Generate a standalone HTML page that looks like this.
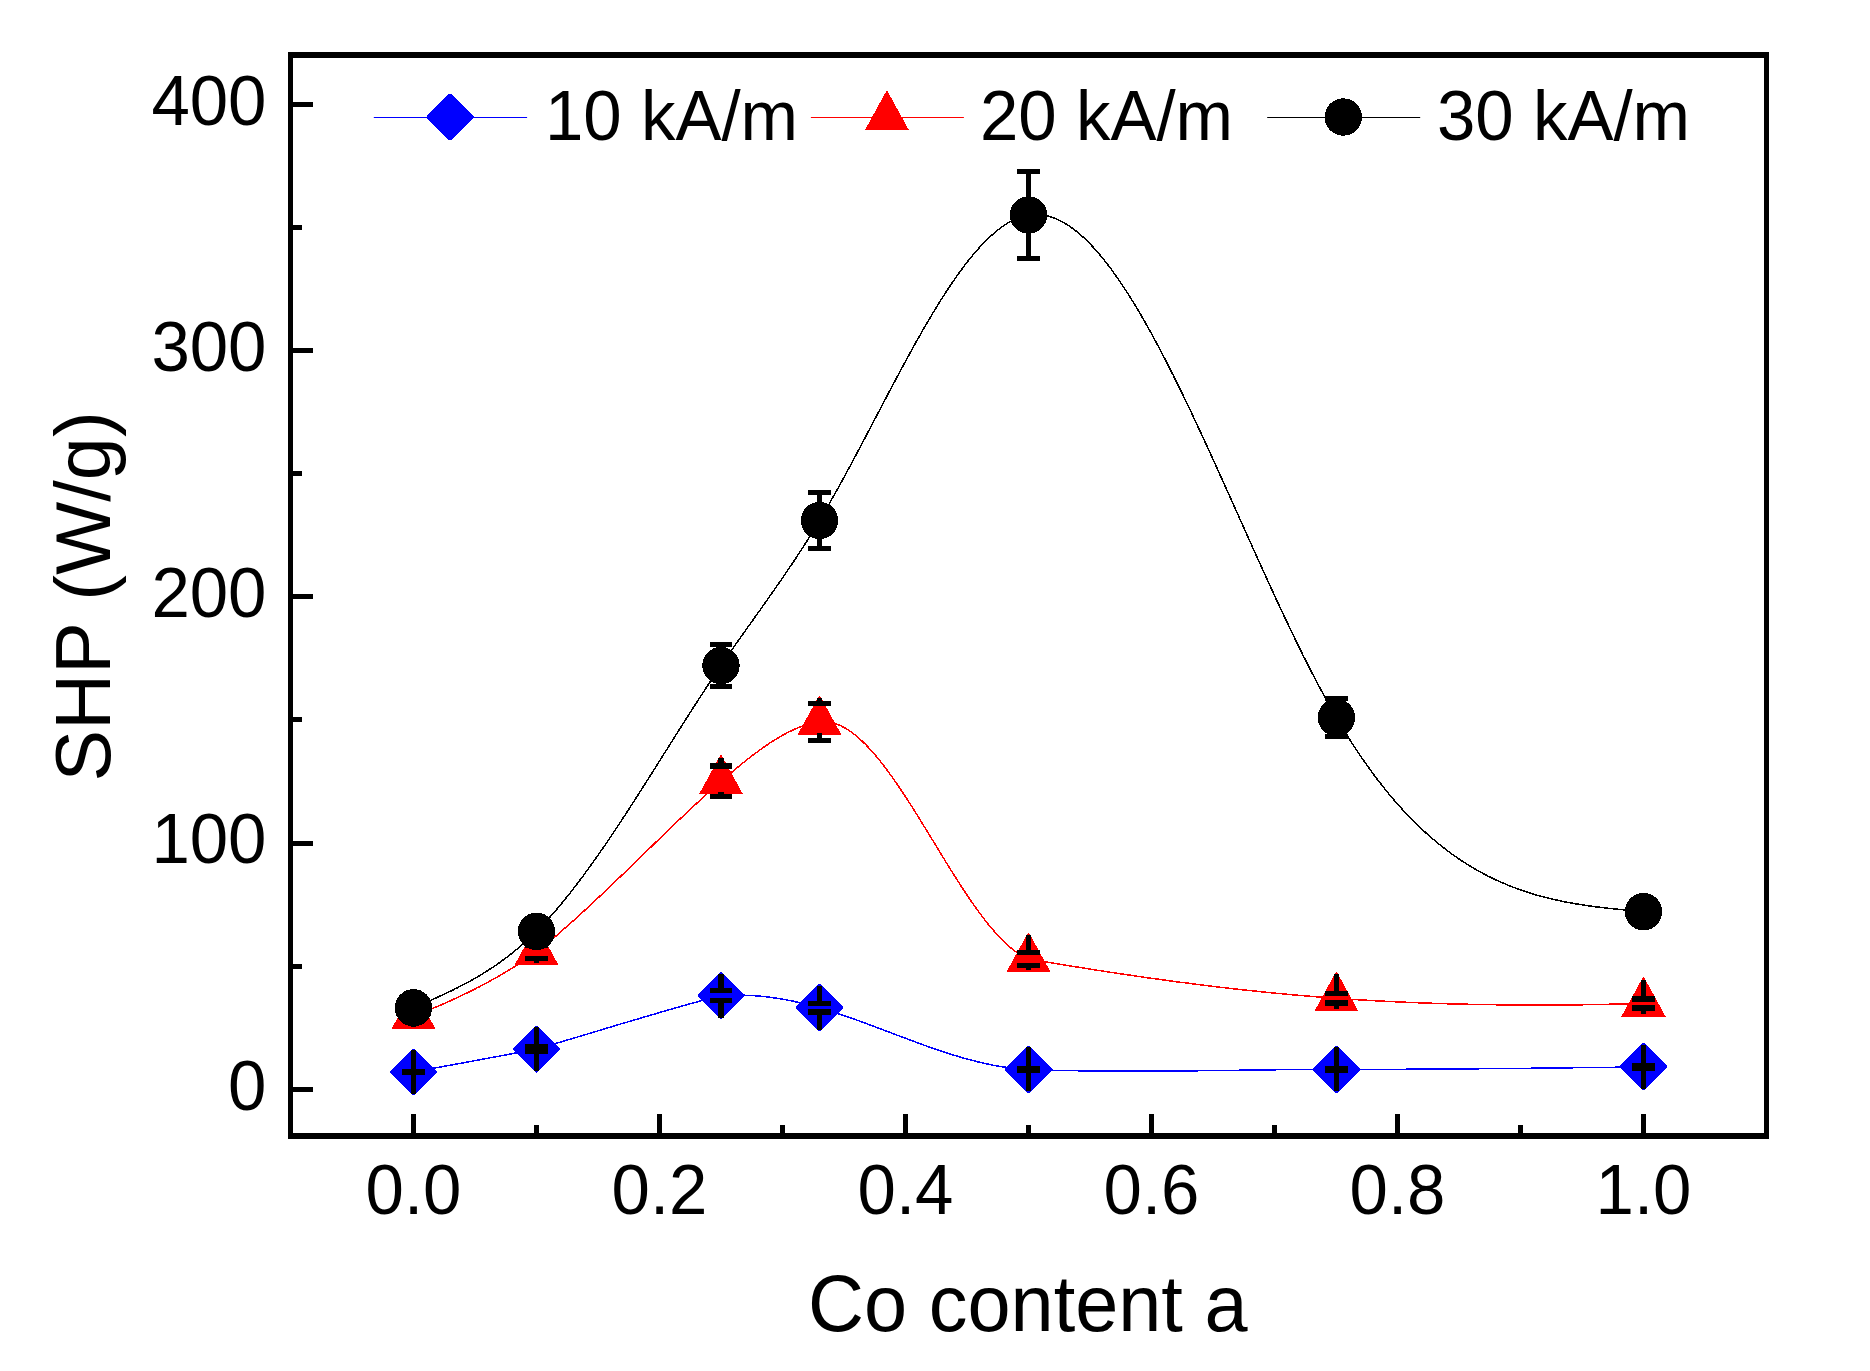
<!DOCTYPE html>
<html><head><meta charset="utf-8"><title>SHP vs Co content</title>
<style>html,body{margin:0;padding:0;background:#fff}svg{display:block}text{font-family:"Liberation Sans",Arial,sans-serif;fill:#000;font-kerning:none}</style></head><body>
<svg width="1870" height="1371" viewBox="0 0 1870 1371">
<rect width="1870" height="1371" fill="#fff"/>
<path d="M413.5,1071.9 L415.6,1071.5 L417.7,1071.1 L419.8,1070.8 L421.8,1070.4 L423.9,1070.0 L426.0,1069.6 L428.1,1069.3 L430.2,1068.9 L432.3,1068.5 L434.3,1068.1 L436.4,1067.7 L438.5,1067.4 L440.6,1067.0 L442.7,1066.6 L444.8,1066.2 L446.9,1065.8 L448.9,1065.5 L451.0,1065.1 L453.1,1064.7 L455.2,1064.3 L457.3,1063.9 L459.4,1063.5 L461.4,1063.2 L463.5,1062.8 L465.6,1062.4 L467.7,1062.0 L469.8,1061.6 L471.9,1061.2 L474.0,1060.8 L476.0,1060.5 L478.1,1060.1 L480.2,1059.7 L482.3,1059.3 L484.4,1058.9 L486.5,1058.5 L488.6,1058.1 L490.6,1057.7 L492.7,1057.4 L494.8,1057.0 L496.9,1056.6 L499.0,1056.2 L501.1,1055.8 L503.1,1055.4 L505.2,1055.0 L507.3,1054.6 L509.4,1054.2 L511.5,1053.8 L513.6,1053.4 L515.7,1053.0 L517.7,1052.7 L519.8,1052.3 L521.9,1051.9 L524.0,1051.5 L526.1,1051.1 L528.2,1050.7 L530.2,1050.3 L532.3,1049.9 L534.4,1049.5 L536.5,1049.1 L536.5,1049.1 L539.6,1048.2 L542.8,1047.3 L545.9,1046.4 L549.0,1045.4 L552.1,1044.5 L555.3,1043.6 L558.4,1042.7 L561.5,1041.8 L564.6,1040.8 L567.8,1039.9 L570.9,1039.0 L574.0,1038.0 L577.2,1037.1 L580.3,1036.2 L583.4,1035.2 L586.5,1034.3 L589.7,1033.3 L592.8,1032.4 L595.9,1031.5 L599.0,1030.5 L602.2,1029.6 L605.3,1028.6 L608.4,1027.7 L611.6,1026.8 L614.7,1025.8 L617.8,1024.9 L620.9,1023.9 L624.1,1023.0 L627.2,1022.1 L630.3,1021.1 L633.4,1020.2 L636.6,1019.3 L639.7,1018.4 L642.8,1017.4 L645.9,1016.5 L649.1,1015.6 L652.2,1014.7 L655.3,1013.8 L658.5,1012.8 L661.6,1011.9 L664.7,1011.0 L667.8,1010.1 L671.0,1009.2 L674.1,1008.3 L677.2,1007.4 L680.3,1006.6 L683.5,1005.7 L686.6,1004.8 L689.7,1003.9 L692.9,1003.1 L696.0,1002.2 L699.1,1001.3 L702.2,1000.5 L705.4,999.6 L708.5,998.8 L711.6,998.0 L714.7,997.1 L717.9,996.3 L721.0,995.5 L721.0,995.5 L722.7,995.4 L724.3,995.3 L726.0,995.3 L727.7,995.2 L729.3,995.1 L731.0,995.1 L732.7,995.1 L734.4,995.1 L736.0,995.1 L737.7,995.1 L739.4,995.1 L741.0,995.1 L742.7,995.2 L744.4,995.2 L746.0,995.3 L747.7,995.3 L749.4,995.4 L751.1,995.5 L752.7,995.6 L754.4,995.7 L756.1,995.9 L757.7,996.0 L759.4,996.1 L761.1,996.3 L762.7,996.5 L764.4,996.6 L766.1,996.8 L767.7,997.0 L769.4,997.2 L771.1,997.5 L772.8,997.7 L774.4,997.9 L776.1,998.2 L777.8,998.4 L779.4,998.7 L781.1,999.0 L782.8,999.2 L784.4,999.5 L786.1,999.8 L787.8,1000.2 L789.4,1000.5 L791.1,1000.8 L792.8,1001.1 L794.5,1001.5 L796.1,1001.9 L797.8,1002.2 L799.5,1002.6 L801.1,1003.0 L802.8,1003.4 L804.5,1003.8 L806.1,1004.2 L807.8,1004.6 L809.5,1005.0 L811.2,1005.5 L812.8,1005.9 L814.5,1006.4 L816.2,1006.8 L817.8,1007.3 L819.5,1007.8 L819.5,1007.8 L823.0,1008.8 L826.6,1009.9 L830.1,1011.0 L833.7,1012.1 L837.2,1013.3 L840.8,1014.5 L844.3,1015.7 L847.8,1016.9 L851.4,1018.1 L854.9,1019.4 L858.5,1020.7 L862.0,1022.0 L865.6,1023.3 L869.1,1024.6 L872.6,1025.9 L876.2,1027.2 L879.7,1028.6 L883.3,1029.9 L886.8,1031.2 L890.3,1032.6 L893.9,1033.9 L897.4,1035.3 L901.0,1036.6 L904.5,1037.9 L908.1,1039.3 L911.6,1040.6 L915.1,1041.9 L918.7,1043.2 L922.2,1044.5 L925.8,1045.8 L929.3,1047.0 L932.9,1048.3 L936.4,1049.5 L939.9,1050.7 L943.5,1051.9 L947.0,1053.0 L950.6,1054.2 L954.1,1055.3 L957.7,1056.3 L961.2,1057.4 L964.7,1058.4 L968.3,1059.4 L971.8,1060.3 L975.4,1061.2 L978.9,1062.1 L982.4,1062.9 L986.0,1063.7 L989.5,1064.5 L993.1,1065.2 L996.6,1065.8 L1000.2,1066.4 L1003.7,1067.0 L1007.2,1067.5 L1010.8,1068.0 L1014.3,1068.4 L1017.9,1068.7 L1021.4,1069.0 L1025.0,1069.2 L1028.5,1069.4 L1028.5,1069.4 L1033.7,1069.6 L1038.9,1069.8 L1044.2,1070.0 L1049.4,1070.1 L1054.6,1070.3 L1059.8,1070.4 L1065.0,1070.5 L1070.2,1070.6 L1075.5,1070.7 L1080.7,1070.8 L1085.9,1070.9 L1091.1,1071.0 L1096.3,1071.0 L1101.6,1071.1 L1106.8,1071.1 L1112.0,1071.2 L1117.2,1071.2 L1122.4,1071.2 L1127.7,1071.2 L1132.9,1071.2 L1138.1,1071.2 L1143.3,1071.2 L1148.5,1071.2 L1153.7,1071.2 L1159.0,1071.1 L1164.2,1071.1 L1169.4,1071.1 L1174.6,1071.0 L1179.8,1071.0 L1185.1,1070.9 L1190.3,1070.9 L1195.5,1070.8 L1200.7,1070.7 L1205.9,1070.7 L1211.2,1070.6 L1216.4,1070.5 L1221.6,1070.5 L1226.8,1070.4 L1232.0,1070.3 L1237.2,1070.3 L1242.5,1070.2 L1247.7,1070.1 L1252.9,1070.1 L1258.1,1070.0 L1263.3,1069.9 L1268.6,1069.9 L1273.8,1069.8 L1279.0,1069.7 L1284.2,1069.7 L1289.4,1069.6 L1294.7,1069.6 L1299.9,1069.6 L1305.1,1069.5 L1310.3,1069.5 L1315.5,1069.5 L1320.7,1069.4 L1326.0,1069.4 L1331.2,1069.4 L1336.4,1069.4 L1336.4,1069.4 L1341.6,1069.4 L1346.8,1069.4 L1352.0,1069.4 L1357.2,1069.4 L1362.4,1069.4 L1367.6,1069.4 L1372.8,1069.4 L1378.0,1069.3 L1383.2,1069.3 L1388.5,1069.3 L1393.7,1069.3 L1398.9,1069.3 L1404.1,1069.3 L1409.3,1069.2 L1414.5,1069.2 L1419.7,1069.2 L1424.9,1069.1 L1430.1,1069.1 L1435.3,1069.1 L1440.5,1069.1 L1445.7,1069.0 L1450.9,1069.0 L1456.1,1068.9 L1461.3,1068.9 L1466.5,1068.9 L1471.7,1068.8 L1476.9,1068.8 L1482.1,1068.7 L1487.3,1068.7 L1492.6,1068.7 L1497.8,1068.6 L1503.0,1068.6 L1508.2,1068.5 L1513.4,1068.5 L1518.6,1068.4 L1523.8,1068.3 L1529.0,1068.3 L1534.2,1068.2 L1539.4,1068.2 L1544.6,1068.1 L1549.8,1068.1 L1555.0,1068.0 L1560.2,1067.9 L1565.4,1067.9 L1570.6,1067.8 L1575.8,1067.7 L1581.0,1067.7 L1586.2,1067.6 L1591.4,1067.5 L1596.7,1067.5 L1601.9,1067.4 L1607.1,1067.3 L1612.3,1067.3 L1617.5,1067.2 L1622.7,1067.1 L1627.9,1067.0 L1633.1,1067.0 L1638.3,1066.9 L1643.5,1066.8" fill="none" stroke="#0000ff" stroke-width="1.5" stroke-linejoin="round" shape-rendering="crispEdges"/>
<path d="M390.1,1071.0 L412.6,1048.5 L414.4,1048.5 L436.9,1071.0 L436.9,1072.8 L414.4,1095.3 L412.6,1095.3 L390.1,1072.8Z" fill="#0000ff" shape-rendering="crispEdges"/>
<path d="M513.1,1048.2 L535.6,1025.7 L537.4,1025.7 L559.9,1048.2 L559.9,1050.0 L537.4,1072.5 L535.6,1072.5 L513.1,1050.0Z" fill="#0000ff" shape-rendering="crispEdges"/>
<path d="M697.6,994.6 L720.1,972.1 L721.9,972.1 L744.4,994.6 L744.4,996.4 L721.9,1018.9 L720.1,1018.9 L697.6,996.4Z" fill="#0000ff" shape-rendering="crispEdges"/>
<path d="M796.1,1006.9 L818.6,984.4 L820.4,984.4 L842.9,1006.9 L842.9,1008.7 L820.4,1031.2 L818.6,1031.2 L796.1,1008.7Z" fill="#0000ff" shape-rendering="crispEdges"/>
<path d="M1005.1,1068.5 L1027.6,1046.0 L1029.4,1046.0 L1051.9,1068.5 L1051.9,1070.3 L1029.4,1092.8 L1027.6,1092.8 L1005.1,1070.3Z" fill="#0000ff" shape-rendering="crispEdges"/>
<path d="M1313.0,1068.5 L1335.5,1046.0 L1337.3,1046.0 L1359.8,1068.5 L1359.8,1070.3 L1337.3,1092.8 L1335.5,1092.8 L1313.0,1070.3Z" fill="#0000ff" shape-rendering="crispEdges"/>
<path d="M1620.1,1065.9 L1642.6,1043.4 L1644.4,1043.4 L1666.9,1065.9 L1666.9,1067.7 L1644.4,1090.2 L1642.6,1090.2 L1620.1,1067.7Z" fill="#0000ff" shape-rendering="crispEdges"/>
<g fill="#000">
<rect x="402" y="1069" width="23" height="5"/>
<rect x="402" y="1070" width="23" height="5"/>
<rect x="411" y="1050" width="5" height="22"/>
<rect x="411" y="1072" width="5" height="22"/>
<rect x="525" y="1044" width="23" height="6"/>
<rect x="525" y="1048" width="23" height="6"/>
<rect x="534" y="1027" width="5" height="20"/>
<rect x="534" y="1051" width="5" height="20"/>
<rect x="710" y="988" width="22" height="5"/>
<rect x="710" y="998" width="22" height="5"/>
<rect x="718" y="974" width="6" height="16"/>
<rect x="718" y="1000" width="6" height="18"/>
<rect x="808" y="1001" width="23" height="5"/>
<rect x="808" y="1009" width="23" height="6"/>
<rect x="817" y="986" width="5" height="18"/>
<rect x="817" y="1012" width="5" height="18"/>
<rect x="1017" y="1066" width="23" height="6"/>
<rect x="1017" y="1067" width="23" height="6"/>
<rect x="1026" y="1047" width="5" height="22"/>
<rect x="1026" y="1070" width="5" height="21"/>
<rect x="1325" y="1066" width="23" height="5"/>
<rect x="1325" y="1067" width="23" height="6"/>
<rect x="1334" y="1047" width="5" height="22"/>
<rect x="1334" y="1070" width="5" height="21"/>
<rect x="1632" y="1063" width="23" height="5"/>
<rect x="1632" y="1065" width="23" height="6"/>
<rect x="1641" y="1045" width="5" height="20"/>
<rect x="1641" y="1068" width="5" height="21"/>
</g>
<path d="M413.5,1016.0 L415.6,1015.2 L417.7,1014.4 L419.8,1013.6 L421.8,1012.8 L423.9,1011.9 L426.0,1011.1 L428.1,1010.3 L430.2,1009.4 L432.3,1008.6 L434.3,1007.7 L436.4,1006.8 L438.5,1005.9 L440.6,1005.1 L442.7,1004.2 L444.8,1003.3 L446.9,1002.3 L448.9,1001.4 L451.0,1000.5 L453.1,999.5 L455.2,998.6 L457.3,997.6 L459.4,996.6 L461.4,995.6 L463.5,994.6 L465.6,993.6 L467.7,992.6 L469.8,991.6 L471.9,990.5 L474.0,989.5 L476.0,988.4 L478.1,987.4 L480.2,986.3 L482.3,985.2 L484.4,984.1 L486.5,983.0 L488.6,981.8 L490.6,980.7 L492.7,979.5 L494.8,978.4 L496.9,977.2 L499.0,976.0 L501.1,974.8 L503.1,973.5 L505.2,972.3 L507.3,971.1 L509.4,969.8 L511.5,968.5 L513.6,967.2 L515.7,965.9 L517.7,964.6 L519.8,963.3 L521.9,961.9 L524.0,960.6 L526.1,959.2 L528.2,957.8 L530.2,956.4 L532.3,955.0 L534.4,953.6 L536.5,952.1 L536.5,952.1 L539.6,949.6 L542.8,947.0 L545.9,944.5 L549.0,941.9 L552.1,939.2 L555.3,936.6 L558.4,933.9 L561.5,931.2 L564.6,928.4 L567.8,925.7 L570.9,922.9 L574.0,920.1 L577.2,917.3 L580.3,914.4 L583.4,911.5 L586.5,908.7 L589.7,905.8 L592.8,902.9 L595.9,899.9 L599.0,897.0 L602.2,894.0 L605.3,891.1 L608.4,888.1 L611.6,885.1 L614.7,882.1 L617.8,879.1 L620.9,876.1 L624.1,873.1 L627.2,870.1 L630.3,867.0 L633.4,864.0 L636.6,861.0 L639.7,857.9 L642.8,854.9 L645.9,851.8 L649.1,848.8 L652.2,845.8 L655.3,842.7 L658.5,839.7 L661.6,836.7 L664.7,833.7 L667.8,830.7 L671.0,827.6 L674.1,824.6 L677.2,821.7 L680.3,818.7 L683.5,815.7 L686.6,812.8 L689.7,809.8 L692.9,806.9 L696.0,804.0 L699.1,801.1 L702.2,798.2 L705.4,795.3 L708.5,792.5 L711.6,789.7 L714.7,786.8 L717.9,784.1 L721.0,781.3 L721.0,781.3 L722.7,779.9 L724.3,778.5 L726.0,777.1 L727.7,775.6 L729.3,774.2 L731.0,772.8 L732.7,771.4 L734.4,770.0 L736.0,768.7 L737.7,767.3 L739.4,765.9 L741.0,764.6 L742.7,763.2 L744.4,761.9 L746.0,760.5 L747.7,759.2 L749.4,757.9 L751.1,756.6 L752.7,755.3 L754.4,754.0 L756.1,752.8 L757.7,751.6 L759.4,750.3 L761.1,749.1 L762.7,747.9 L764.4,746.8 L766.1,745.6 L767.7,744.5 L769.4,743.3 L771.1,742.2 L772.8,741.2 L774.4,740.1 L776.1,739.1 L777.8,738.1 L779.4,737.1 L781.1,736.1 L782.8,735.2 L784.4,734.2 L786.1,733.4 L787.8,732.5 L789.4,731.7 L791.1,730.9 L792.8,730.1 L794.5,729.3 L796.1,728.6 L797.8,727.9 L799.5,727.3 L801.1,726.6 L802.8,726.0 L804.5,725.5 L806.1,724.9 L807.8,724.4 L809.5,724.0 L811.2,723.6 L812.8,723.2 L814.5,722.8 L816.2,722.5 L817.8,722.2 L819.5,722.0 L819.5,722.0 L823.0,721.7 L826.6,721.8 L830.1,722.3 L833.7,723.1 L837.2,724.3 L840.8,725.8 L844.3,727.6 L847.8,729.7 L851.4,732.2 L854.9,734.8 L858.5,737.8 L862.0,741.0 L865.6,744.5 L869.1,748.2 L872.6,752.1 L876.2,756.2 L879.7,760.5 L883.3,765.0 L886.8,769.7 L890.3,774.5 L893.9,779.5 L897.4,784.6 L901.0,789.9 L904.5,795.2 L908.1,800.7 L911.6,806.2 L915.1,811.8 L918.7,817.5 L922.2,823.3 L925.8,829.0 L929.3,834.8 L932.9,840.6 L936.4,846.4 L939.9,852.2 L943.5,858.0 L947.0,863.8 L950.6,869.5 L954.1,875.1 L957.7,880.7 L961.2,886.2 L964.7,891.6 L968.3,896.9 L971.8,902.1 L975.4,907.1 L978.9,912.0 L982.4,916.8 L986.0,921.4 L989.5,925.8 L993.1,930.0 L996.6,934.0 L1000.2,937.8 L1003.7,941.4 L1007.2,944.7 L1010.8,947.8 L1014.3,950.6 L1017.9,953.1 L1021.4,955.4 L1025.0,957.4 L1028.5,959.0 L1028.5,959.0 L1033.7,959.9 L1038.9,960.8 L1044.2,961.6 L1049.4,962.5 L1054.6,963.4 L1059.8,964.2 L1065.0,965.1 L1070.2,965.9 L1075.5,966.8 L1080.7,967.6 L1085.9,968.4 L1091.1,969.3 L1096.3,970.1 L1101.6,970.9 L1106.8,971.7 L1112.0,972.5 L1117.2,973.3 L1122.4,974.1 L1127.7,974.8 L1132.9,975.6 L1138.1,976.4 L1143.3,977.1 L1148.5,977.9 L1153.7,978.6 L1159.0,979.3 L1164.2,980.0 L1169.4,980.8 L1174.6,981.5 L1179.8,982.2 L1185.1,982.8 L1190.3,983.5 L1195.5,984.2 L1200.7,984.8 L1205.9,985.5 L1211.2,986.1 L1216.4,986.8 L1221.6,987.4 L1226.8,988.0 L1232.0,988.6 L1237.2,989.2 L1242.5,989.8 L1247.7,990.3 L1252.9,990.9 L1258.1,991.4 L1263.3,992.0 L1268.6,992.5 L1273.8,993.0 L1279.0,993.5 L1284.2,994.0 L1289.4,994.5 L1294.7,995.0 L1299.9,995.4 L1305.1,995.9 L1310.3,996.3 L1315.5,996.7 L1320.7,997.1 L1326.0,997.5 L1331.2,997.9 L1336.4,998.3 L1336.4,998.3 L1341.6,998.7 L1346.8,999.0 L1352.0,999.3 L1357.2,999.7 L1362.4,1000.0 L1367.6,1000.3 L1372.8,1000.6 L1378.0,1000.9 L1383.2,1001.2 L1388.5,1001.4 L1393.7,1001.7 L1398.9,1001.9 L1404.1,1002.2 L1409.3,1002.4 L1414.5,1002.6 L1419.7,1002.8 L1424.9,1003.0 L1430.1,1003.2 L1435.3,1003.4 L1440.5,1003.5 L1445.7,1003.7 L1450.9,1003.9 L1456.1,1004.0 L1461.3,1004.1 L1466.5,1004.2 L1471.7,1004.4 L1476.9,1004.5 L1482.1,1004.6 L1487.3,1004.6 L1492.6,1004.7 L1497.8,1004.8 L1503.0,1004.9 L1508.2,1004.9 L1513.4,1004.9 L1518.6,1005.0 L1523.8,1005.0 L1529.0,1005.0 L1534.2,1005.0 L1539.4,1005.0 L1544.6,1005.0 L1549.8,1005.0 L1555.0,1005.0 L1560.2,1005.0 L1565.4,1004.9 L1570.6,1004.9 L1575.8,1004.8 L1581.0,1004.8 L1586.2,1004.7 L1591.4,1004.6 L1596.7,1004.5 L1601.9,1004.4 L1607.1,1004.3 L1612.3,1004.2 L1617.5,1004.1 L1622.7,1004.0 L1627.9,1003.8 L1633.1,1003.7 L1638.3,1003.6 L1643.5,1003.4" fill="none" stroke="#ff0000" stroke-width="1.5" stroke-linejoin="round" shape-rendering="crispEdges"/>
<path d="M391.4,1029.1 L412.9,989.9 L414.1,989.9 L435.6,1029.1Z" fill="#ff0000" shape-rendering="crispEdges"/>
<path d="M514.4,965.2 L535.9,926.0 L537.1,926.0 L558.6,965.2Z" fill="#ff0000" shape-rendering="crispEdges"/>
<path d="M698.9,794.4 L720.4,755.2 L721.6,755.2 L743.1,794.4Z" fill="#ff0000" shape-rendering="crispEdges"/>
<path d="M797.4,735.1 L818.9,695.9 L820.1,695.9 L841.6,735.1Z" fill="#ff0000" shape-rendering="crispEdges"/>
<path d="M1006.4,972.1 L1027.9,932.9 L1029.1,932.9 L1050.6,972.1Z" fill="#ff0000" shape-rendering="crispEdges"/>
<path d="M1314.3,1011.4 L1335.8,972.2 L1337.0,972.2 L1358.5,1011.4Z" fill="#ff0000" shape-rendering="crispEdges"/>
<path d="M1621.4,1016.5 L1642.9,977.3 L1644.1,977.3 L1665.6,1016.5Z" fill="#ff0000" shape-rendering="crispEdges"/>
<g fill="#000">
<rect x="402" y="1010" width="23" height="6"/>
<rect x="402" y="1016" width="23" height="6"/>
<rect x="411" y="992" width="5" height="21"/>
<rect x="411" y="1019" width="5" height="8"/>
<rect x="525" y="943" width="23" height="5"/>
<rect x="525" y="956" width="23" height="5"/>
<rect x="534" y="928" width="5" height="18"/>
<rect x="534" y="958" width="5" height="5"/>
<rect x="710" y="763" width="22" height="6"/>
<rect x="710" y="794" width="22" height="5"/>
<rect x="718" y="758" width="6" height="8"/>
<rect x="718" y="792" width="6" height="5"/>
<rect x="808" y="701" width="23" height="5"/>
<rect x="808" y="738" width="23" height="5"/>
<rect x="817" y="698" width="5" height="6"/>
<rect x="817" y="733" width="5" height="7"/>
<rect x="1017" y="950" width="23" height="5"/>
<rect x="1017" y="963" width="23" height="5"/>
<rect x="1026" y="935" width="5" height="17"/>
<rect x="1026" y="966" width="5" height="4"/>
<rect x="1325" y="991" width="23" height="5"/>
<rect x="1325" y="1000" width="23" height="6"/>
<rect x="1334" y="974" width="5" height="20"/>
<rect x="1334" y="1003" width="5" height="6"/>
<rect x="1632" y="996" width="23" height="6"/>
<rect x="1632" y="1005" width="23" height="6"/>
<rect x="1641" y="980" width="5" height="19"/>
<rect x="1641" y="1008" width="5" height="6"/>
</g>
<path d="M413.5,1007.8 L416.0,1006.7 L418.4,1005.7 L420.9,1004.6 L423.4,1003.5 L425.8,1002.4 L428.3,1001.4 L430.8,1000.3 L433.2,999.2 L435.7,998.1 L438.1,996.9 L440.6,995.8 L443.1,994.7 L445.5,993.5 L448.0,992.3 L450.5,991.2 L452.9,990.0 L455.4,988.7 L457.9,987.5 L460.3,986.2 L462.8,985.0 L465.3,983.6 L467.7,982.3 L470.2,981.0 L472.7,979.6 L475.1,978.2 L477.6,976.8 L480.1,975.3 L482.5,973.8 L485.0,972.3 L487.4,970.7 L489.9,969.1 L492.4,967.5 L494.8,965.9 L497.3,964.2 L499.8,962.4 L502.2,960.6 L504.7,958.8 L507.2,957.0 L509.6,955.1 L512.1,953.1 L514.6,951.1 L517.0,949.1 L519.5,947.0 L522.0,944.9 L524.4,942.7 L526.9,940.5 L529.4,938.2 L531.8,935.9 L534.3,933.5 L536.7,931.1 L539.2,928.6 L541.7,926.0 L544.1,923.4 L546.6,920.7 L549.1,918.0 L551.5,915.3 L554.0,912.5 L556.5,909.6 L558.9,906.7 L561.4,903.7 L563.9,900.7 L566.3,897.7 L568.8,894.6 L571.3,891.5 L573.7,888.3 L576.2,885.1 L578.7,881.9 L581.1,878.6 L583.6,875.3 L586.0,871.9 L588.5,868.5 L591.0,865.1 L593.4,861.7 L595.9,858.2 L598.4,854.7 L600.8,851.1 L603.3,847.6 L605.8,844.0 L608.2,840.3 L610.7,836.7 L613.2,833.0 L615.6,829.3 L618.1,825.6 L620.6,821.9 L623.0,818.1 L625.5,814.4 L627.9,810.6 L630.4,806.8 L632.9,802.9 L635.3,799.1 L637.8,795.3 L640.3,791.4 L642.7,787.5 L645.2,783.7 L647.7,779.8 L650.1,775.9 L652.6,772.0 L655.1,768.1 L657.5,764.2 L660.0,760.3 L662.5,756.3 L664.9,752.4 L667.4,748.5 L669.9,744.6 L672.3,740.7 L674.8,736.8 L677.2,732.9 L679.7,729.0 L682.2,725.1 L684.6,721.2 L687.1,717.4 L689.6,713.5 L692.0,709.6 L694.5,705.8 L697.0,702.0 L699.4,698.2 L701.9,694.4 L704.4,690.6 L706.8,686.8 L709.3,683.1 L711.8,679.4 L714.2,675.7 L716.7,672.0 L719.2,668.3 L721.6,664.7 L724.1,661.1 L726.5,657.5 L729.0,653.9 L731.5,650.4 L733.9,646.9 L736.4,643.3 L738.9,639.8 L741.3,636.3 L743.8,632.9 L746.3,629.4 L748.7,625.9 L751.2,622.5 L753.7,619.0 L756.1,615.5 L758.6,612.1 L761.1,608.6 L763.5,605.1 L766.0,601.6 L768.4,598.1 L770.9,594.6 L773.4,591.1 L775.8,587.6 L778.3,584.1 L780.8,580.5 L783.2,576.9 L785.7,573.3 L788.2,569.6 L790.6,566.0 L793.1,562.3 L795.6,558.6 L798.0,554.8 L800.5,551.0 L803.0,547.2 L805.4,543.4 L807.9,539.5 L810.4,535.5 L812.8,531.5 L815.3,527.5 L817.7,523.4 L820.2,519.3 L822.7,515.1 L825.1,510.9 L827.6,506.6 L830.1,502.3 L832.5,498.0 L835.0,493.6 L837.5,489.2 L839.9,484.7 L842.4,480.2 L844.9,475.7 L847.3,471.1 L849.8,466.6 L852.3,462.0 L854.7,457.3 L857.2,452.7 L859.7,448.0 L862.1,443.4 L864.6,438.7 L867.0,434.0 L869.5,429.3 L872.0,424.6 L874.4,419.9 L876.9,415.2 L879.4,410.5 L881.8,405.8 L884.3,401.1 L886.8,396.4 L889.2,391.7 L891.7,387.1 L894.2,382.4 L896.6,377.8 L899.1,373.2 L901.6,368.6 L904.0,364.0 L906.5,359.5 L909.0,355.0 L911.4,350.5 L913.9,346.0 L916.3,341.6 L918.8,337.3 L921.3,332.9 L923.7,328.6 L926.2,324.4 L928.7,320.2 L931.1,316.0 L933.6,311.9 L936.1,307.8 L938.5,303.8 L941.0,299.9 L943.5,296.0 L945.9,292.2 L948.4,288.4 L950.9,284.7 L953.3,281.1 L955.8,277.6 L958.2,274.1 L960.7,270.7 L963.2,267.4 L965.6,264.1 L968.1,260.9 L970.6,257.9 L973.0,254.9 L975.5,252.0 L978.0,249.1 L980.4,246.4 L982.9,243.8 L985.4,241.2 L987.8,238.8 L990.3,236.5 L992.8,234.3 L995.2,232.1 L997.7,230.1 L1000.2,228.2 L1002.6,226.4 L1005.1,224.7 L1007.5,223.2 L1010.0,221.8 L1012.5,220.4 L1014.9,219.2 L1017.4,218.2 L1019.9,217.2 L1022.3,216.4 L1024.8,215.8 L1027.3,215.2 L1029.7,214.8 L1032.2,214.6 L1034.7,214.4 L1037.1,214.4 L1039.6,214.6 L1042.1,214.8 L1044.5,215.2 L1047.0,215.8 L1049.5,216.4 L1051.9,217.2 L1054.4,218.1 L1056.8,219.1 L1059.3,220.3 L1061.8,221.5 L1064.2,222.9 L1066.7,224.4 L1069.2,226.0 L1071.6,227.7 L1074.1,229.5 L1076.6,231.5 L1079.0,233.5 L1081.5,235.7 L1084.0,237.9 L1086.4,240.3 L1088.9,242.7 L1091.4,245.3 L1093.8,247.9 L1096.3,250.7 L1098.8,253.5 L1101.2,256.4 L1103.7,259.5 L1106.1,262.6 L1108.6,265.8 L1111.1,269.0 L1113.5,272.4 L1116.0,275.9 L1118.5,279.4 L1120.9,283.0 L1123.4,286.7 L1125.9,290.5 L1128.3,294.3 L1130.8,298.2 L1133.3,302.2 L1135.7,306.2 L1138.2,310.3 L1140.7,314.5 L1143.1,318.8 L1145.6,323.1 L1148.0,327.5 L1150.5,331.9 L1153.0,336.4 L1155.4,340.9 L1157.9,345.5 L1160.4,350.2 L1162.8,354.9 L1165.3,359.7 L1167.8,364.5 L1170.2,369.3 L1172.7,374.2 L1175.2,379.2 L1177.6,384.1 L1180.1,389.2 L1182.6,394.2 L1185.0,399.3 L1187.5,404.5 L1190.0,409.6 L1192.4,414.8 L1194.9,420.1 L1197.3,425.3 L1199.8,430.6 L1202.3,435.9 L1204.7,441.3 L1207.2,446.6 L1209.7,452.0 L1212.1,457.4 L1214.6,462.8 L1217.1,468.2 L1219.5,473.7 L1222.0,479.1 L1224.5,484.6 L1226.9,490.1 L1229.4,495.6 L1231.9,501.1 L1234.3,506.6 L1236.8,512.1 L1239.3,517.6 L1241.7,523.1 L1244.2,528.6 L1246.6,534.1 L1249.1,539.6 L1251.6,545.0 L1254.0,550.5 L1256.5,556.0 L1259.0,561.4 L1261.4,566.9 L1263.9,572.3 L1266.4,577.7 L1268.8,583.1 L1271.3,588.5 L1273.8,593.8 L1276.2,599.2 L1278.7,604.5 L1281.2,609.7 L1283.6,615.0 L1286.1,620.2 L1288.6,625.4 L1291.0,630.5 L1293.5,635.7 L1295.9,640.7 L1298.4,645.8 L1300.9,650.8 L1303.3,655.8 L1305.8,660.7 L1308.3,665.6 L1310.7,670.4 L1313.2,675.2 L1315.7,679.9 L1318.1,684.6 L1320.6,689.2 L1323.1,693.8 L1325.5,698.3 L1328.0,702.8 L1330.5,707.2 L1332.9,711.6 L1335.4,715.9 L1337.8,720.1 L1340.3,724.2 L1342.8,728.3 L1345.2,732.4 L1347.7,736.3 L1350.2,740.2 L1352.6,744.1 L1355.1,747.9 L1357.6,751.6 L1360.0,755.3 L1362.5,758.9 L1365.0,762.4 L1367.4,765.9 L1369.9,769.3 L1372.4,772.7 L1374.8,776.0 L1377.3,779.3 L1379.8,782.5 L1382.2,785.6 L1384.7,788.7 L1387.1,791.8 L1389.6,794.8 L1392.1,797.7 L1394.5,800.6 L1397.0,803.4 L1399.5,806.2 L1401.9,808.9 L1404.4,811.6 L1406.9,814.2 L1409.3,816.8 L1411.8,819.3 L1414.3,821.8 L1416.7,824.2 L1419.2,826.6 L1421.7,828.9 L1424.1,831.2 L1426.6,833.5 L1429.1,835.7 L1431.5,837.8 L1434.0,839.9 L1436.4,842.0 L1438.9,844.0 L1441.4,846.0 L1443.8,847.9 L1446.3,849.8 L1448.8,851.7 L1451.2,853.5 L1453.7,855.3 L1456.2,857.0 L1458.6,858.7 L1461.1,860.4 L1463.6,862.0 L1466.0,863.6 L1468.5,865.1 L1471.0,866.6 L1473.4,868.1 L1475.9,869.5 L1478.3,870.9 L1480.8,872.3 L1483.3,873.6 L1485.7,874.9 L1488.2,876.2 L1490.7,877.4 L1493.1,878.6 L1495.6,879.8 L1498.1,880.9 L1500.5,882.0 L1503.0,883.1 L1505.5,884.1 L1507.9,885.1 L1510.4,886.1 L1512.9,887.1 L1515.3,888.0 L1517.8,888.9 L1520.3,889.8 L1522.7,890.7 L1525.2,891.5 L1527.6,892.3 L1530.1,893.1 L1532.6,893.8 L1535.0,894.6 L1537.5,895.3 L1540.0,896.0 L1542.4,896.6 L1544.9,897.3 L1547.4,897.9 L1549.8,898.5 L1552.3,899.1 L1554.8,899.7 L1557.2,900.2 L1559.7,900.7 L1562.2,901.3 L1564.6,901.8 L1567.1,902.2 L1569.6,902.7 L1572.0,903.1 L1574.5,903.6 L1576.9,904.0 L1579.4,904.4 L1581.9,904.8 L1584.3,905.2 L1586.8,905.5 L1589.3,905.9 L1591.7,906.2 L1594.2,906.6 L1596.7,906.9 L1599.1,907.2 L1601.6,907.5 L1604.1,907.8 L1606.5,908.1 L1609.0,908.3 L1611.5,908.6 L1613.9,908.9 L1616.4,909.1 L1618.9,909.4 L1621.3,909.6 L1623.8,909.9 L1626.2,910.1 L1628.7,910.3 L1631.2,910.6 L1633.6,910.8 L1636.1,911.0 L1638.6,911.3 L1641.0,911.5 L1643.5,911.7" fill="none" stroke="#000000" stroke-width="1.5" stroke-linejoin="round" shape-rendering="crispEdges"/>
<circle cx="413.5" cy="1007.8" r="18.7" fill="#000" shape-rendering="crispEdges"/>
<circle cx="536.5" cy="931.3" r="18.7" fill="#000" shape-rendering="crispEdges"/>
<circle cx="721.0" cy="665.6" r="18.7" fill="#000" shape-rendering="crispEdges"/>
<circle cx="819.5" cy="520.5" r="18.7" fill="#000" shape-rendering="crispEdges"/>
<circle cx="1028.5" cy="215.0" r="18.7" fill="#000" shape-rendering="crispEdges"/>
<circle cx="1336.4" cy="717.6" r="18.7" fill="#000" shape-rendering="crispEdges"/>
<circle cx="1643.5" cy="911.7" r="18.7" fill="#000" shape-rendering="crispEdges"/>
<g fill="#000">
<rect x="710" y="642" width="22" height="5"/>
<rect x="710" y="684" width="22" height="5"/>
<rect x="718" y="645" width="6" height="4"/>
<rect x="718" y="683" width="6" height="3"/>
<rect x="808" y="490" width="23" height="5"/>
<rect x="808" y="546" width="23" height="5"/>
<rect x="817" y="492" width="5" height="12"/>
<rect x="817" y="538" width="5" height="10"/>
<rect x="1017" y="169" width="23" height="5"/>
<rect x="1017" y="256" width="23" height="5"/>
<rect x="1026" y="172" width="5" height="26"/>
<rect x="1026" y="232" width="5" height="26"/>
<rect x="1325" y="696" width="23" height="5"/>
<rect x="1325" y="734" width="23" height="5"/>
<rect x="1334" y="699" width="5" height="2"/>
<rect x="1334" y="735" width="5" height="2"/>
</g>
<g fill="#000" shape-rendering="crispEdges">
<rect x="288" y="52" width="1481" height="6"/>
<rect x="288" y="1133" width="1481" height="6"/>
<rect x="288" y="52" width="5" height="1087"/>
<rect x="1764" y="52" width="5" height="1087"/>
<rect x="293" y="1086.7" width="20" height="5"/>
<rect x="293" y="963.6" width="9" height="5"/>
<rect x="293" y="840.5" width="20" height="5"/>
<rect x="293" y="717.3" width="9" height="5"/>
<rect x="293" y="594.2" width="20" height="5"/>
<rect x="293" y="471.1" width="9" height="5"/>
<rect x="293" y="348.0" width="20" height="5"/>
<rect x="293" y="224.8" width="9" height="5"/>
<rect x="293" y="101.7" width="20" height="5"/>
<rect x="411.0" y="1114" width="5" height="19"/>
<rect x="534.0" y="1125" width="5" height="8"/>
<rect x="657.0" y="1114" width="5" height="19"/>
<rect x="780.0" y="1125" width="5" height="8"/>
<rect x="903.0" y="1114" width="5" height="19"/>
<rect x="1026.0" y="1125" width="5" height="8"/>
<rect x="1149.0" y="1114" width="5" height="19"/>
<rect x="1272.0" y="1125" width="5" height="8"/>
<rect x="1395.0" y="1114" width="5" height="19"/>
<rect x="1518.0" y="1125" width="5" height="8"/>
<rect x="1641.0" y="1114" width="5" height="19"/>
</g>
<text transform="translate(266.5,1109.7) scale(1,1.02)" font-size="69" text-anchor="end">0</text>
<text transform="translate(266.5,863.4) scale(1,1.02)" font-size="69" text-anchor="end">100</text>
<text transform="translate(266.5,617.2) scale(1,1.02)" font-size="69" text-anchor="end">200</text>
<text transform="translate(266.5,371.0) scale(1,1.02)" font-size="69" text-anchor="end">300</text>
<text transform="translate(266.5,124.7) scale(1,1.02)" font-size="69" text-anchor="end">400</text>
<text transform="translate(413.5,1213.5) scale(1,1.02)" font-size="69" text-anchor="middle">0.0</text>
<text transform="translate(659.5,1213.5) scale(1,1.02)" font-size="69" text-anchor="middle">0.2</text>
<text transform="translate(905.5,1213.5) scale(1,1.02)" font-size="69" text-anchor="middle">0.4</text>
<text transform="translate(1151.5,1213.5) scale(1,1.02)" font-size="69" text-anchor="middle">0.6</text>
<text transform="translate(1397.5,1213.5) scale(1,1.02)" font-size="69" text-anchor="middle">0.8</text>
<text transform="translate(1643.5,1213.5) scale(1,1.02)" font-size="69" text-anchor="middle">1.0</text>
<text transform="translate(1027.8,1331.2) scale(1,1.025)" font-size="77.5" text-anchor="middle">Co content a</text>
<text transform="translate(110.4,596.4) rotate(-90) scale(1,1.015)" font-size="77.5" text-anchor="middle">SHP (W/g)</text>
<path d="M373.8,117.5 H527.1" stroke="#0000ff" stroke-width="1"/>
<path d="M426.7,116.1 L449.2,93.6 L451.0,93.6 L473.5,116.1 L473.5,117.9 L451.0,140.4 L449.2,140.4 L426.7,117.9Z" fill="#0000ff" shape-rendering="crispEdges"/>
<text transform="translate(545,139.9) scale(1,1.02)" font-size="69" text-anchor="start">10 kA/m</text>
<path d="M810.9,117.5 H963.9" stroke="#ff0000" stroke-width="1"/>
<path d="M864.8,130.3 L886.3,91.1 L887.5,91.1 L909.0,130.3Z" fill="#ff0000" shape-rendering="crispEdges"/>
<text transform="translate(980,139.9) scale(1,1.02)" font-size="69" text-anchor="start">20 kA/m</text>
<path d="M1267.2,117.5 H1420.2" stroke="#000" stroke-width="1"/>
<circle cx="1343.3" cy="117.0" r="18.7" fill="#000" shape-rendering="crispEdges"/>
<text transform="translate(1437,139.9) scale(1,1.02)" font-size="69" text-anchor="start">30 kA/m</text>
</svg></body></html>
